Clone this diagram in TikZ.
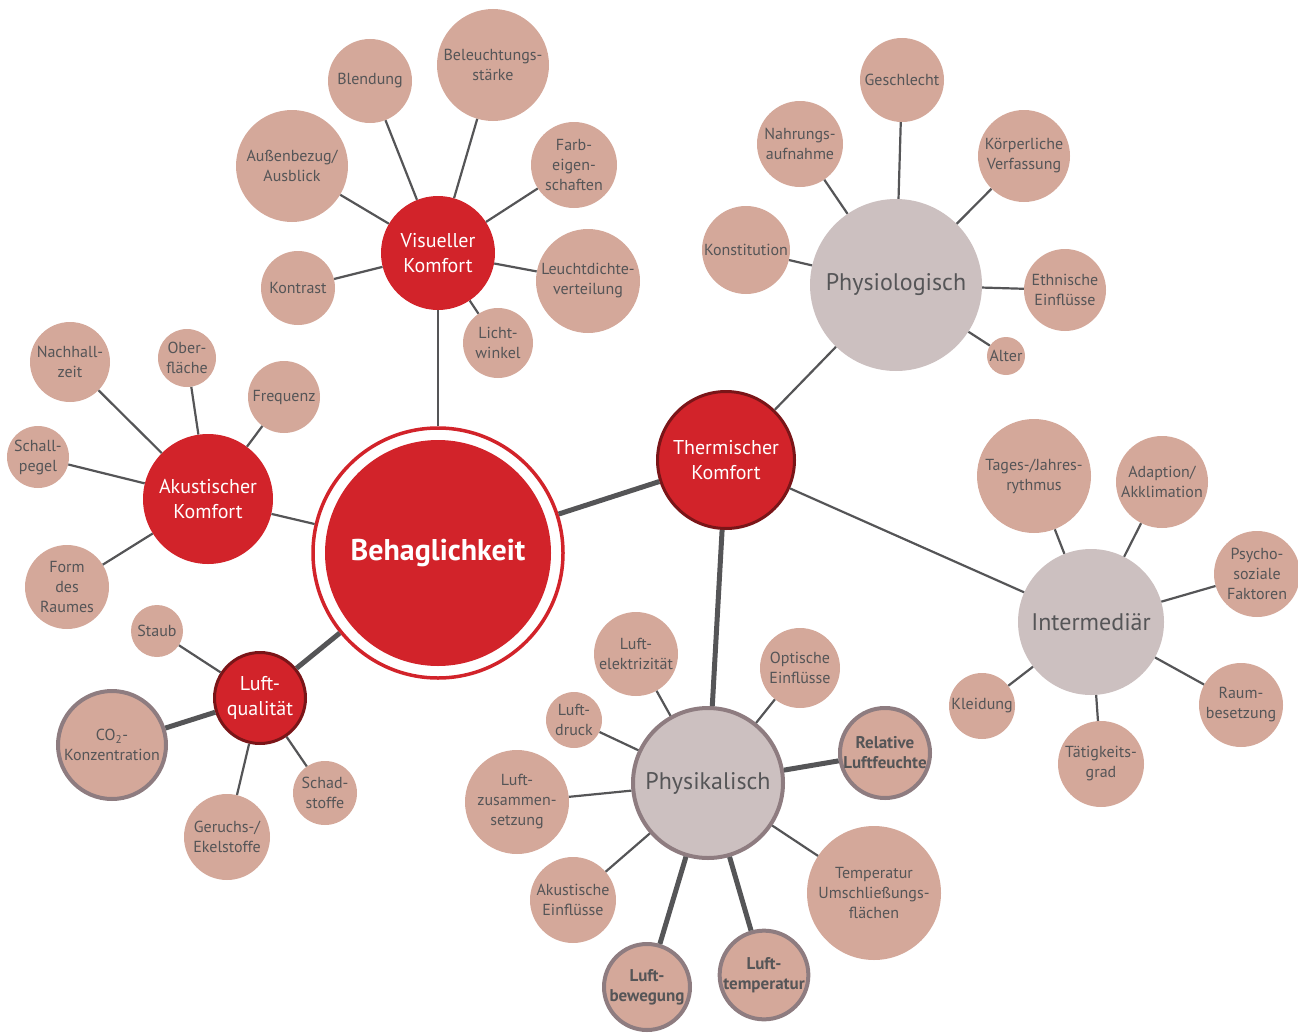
\documentclass[tikz,border=0pt]{standalone}
\usepackage{fontspec}
\setmainfont{PT Sans}
\definecolor{redc}{HTML}{D2232A}
\definecolor{darkred}{HTML}{7A1518}
\definecolor{pinkc}{HTML}{D4A89A}
\definecolor{grayc}{HTML}{CCC0C0}
\definecolor{bordc}{HTML}{8E7C80}
\definecolor{textc}{HTML}{555557}
\definecolor{linec}{HTML}{555557}
\tikzset{
  base/.style={circle, inner sep=0pt, align=center, text=textc, font=\fontsize{16}{20}\selectfont},
  leaf/.style={base, fill=pinkc},
  bleaf/.style={base, fill=pinkc, draw=bordc, line width=4pt, font=\fontsize{17}{20}\selectfont\bfseries},
  redn/.style={circle, inner sep=0pt, align=center, fill=redc, text=white, font=\fontsize{20}{25}\selectfont},
  redb/.style={redn, draw=darkred, line width=3pt},
  grayn/.style={circle, inner sep=0pt, align=center, fill=grayc, text=textc, font=\fontsize{24}{28}\selectfont},
  grayb/.style={grayn, draw=bordc, line width=4pt},
  conn/.style={draw=linec, line width=2.2pt},
  thick conn/.style={draw=linec, line width=5pt},
}
\begin{document}
\begin{tikzpicture}[x=1pt,y=-1pt]
\useasboundingbox (0,0) rectangle (1298,1033);
% main
\node[circle, draw=redc, line width=3.5pt, fill=white, minimum size=250pt, inner sep=0pt,
  text=white, font=\fontsize{30}{34}\selectfont\bfseries,
  path picture={\fill[redc] (path picture bounding box.center) circle (113pt);}] (beh) at (438,553) {Behaglichkeit};
% category nodes
\node[redn, minimum size=114pt] (vis) at (438,253) {Visueller\\Komfort};
\node[redn, minimum size=130pt] (ak) at (208,499) {Akustischer\\Komfort};
\node[redb, minimum size=91pt] (lq) at (260,698) {Luft-\\qualität};
\node[redb, minimum size=137pt] (th) at (726,460) {Thermischer\\Komfort};
\node[grayn, minimum size=172pt] (phy) at (896,285) {Physiologisch};
\node[grayn, minimum size=146pt] (int) at (1091,622) {Intermediär};
\node[grayb, minimum size=150pt] (phk) at (708,783) {Physikalisch};
% visual leaves
\node[leaf, minimum size=84pt] (bld) at (370,81) {Blendung};
\node[leaf, minimum size=112pt] (bel) at (493,65) {Beleuchtungs-\\stärke};
\node[leaf, minimum size=86pt] (farb) at (574,165) {Farb-\\eigen-\\schaften};
\node[leaf, minimum size=112pt] (aus) at (292,166) {Außenbezug/\\Ausblick};
\node[leaf, minimum size=74pt] (kon) at (298,288) {Kontrast};
\node[leaf, minimum size=104pt] (leu) at (588,281) {Leuchtdichte-\\verteilung};
\node[leaf, minimum size=70pt] (lw) at (498,343) {Licht-\\winkel};
% acoustic leaves
\node[leaf, minimum size=80pt] (nach) at (70,362) {Nachhall-\\zeit};
\node[leaf, minimum size=58pt] (ober) at (187,358) {Ober-\\fläche};
\node[leaf, minimum size=72pt] (freq) at (284,397) {Frequenz};
\node[leaf, minimum size=62pt] (schall) at (38,457) {Schall-\\pegel};
\node[leaf, minimum size=84pt] (form) at (67,587) {Form\\des\\Raumes};
% air quality leaves
\node[leaf, minimum size=52pt] (staub) at (157,631) {Staub};
\node[bleaf, minimum size=108pt, font=\fontsize{16}{20}\selectfont] (co2) at (112,745) {CO\textsubscript{2}-\\Konzentration};
\node[leaf, minimum size=86pt] (ger) at (227,837) {Geruchs-/\\Ekelstoffe};
\node[leaf, minimum size=64pt] (schad) at (325,793) {Schad-\\stoffe};
% physiological leaves
\node[leaf, minimum size=84pt] (ges) at (902,80) {Geschlecht};
\node[leaf, minimum size=86pt] (nahr) at (800,144) {Nahrungs-\\aufnahme};
\node[leaf, minimum size=92pt] (koer) at (1024,156) {Körperliche\\Verfassung};
\node[leaf, minimum size=88pt] (konst) at (746,250) {Konstitution};
\node[leaf, minimum size=82pt] (eth) at (1065,290) {Ethnische\\Einflüsse};
\node[leaf, minimum size=38pt] (alt) at (1006,356) {Alter};
% intermediate leaves
\node[leaf, minimum size=114pt] (tag) at (1034,476) {Tages-/Jahres-\\rythmus};
\node[leaf, minimum size=92pt] (adap) at (1162,482) {Adaption/\\Akklimation};
\node[leaf, minimum size=86pt] (psy) at (1257,574) {Psycho-\\soziale\\Faktoren};
\node[leaf, minimum size=84pt] (raum) at (1241,705) {Raum-\\besetzung};
\node[leaf, minimum size=86pt] (taet) at (1101,764) {Tätigkeits-\\grad};
\node[leaf, minimum size=66pt] (kleid) at (982,706) {Kleidung};
% physical leaves
\node[leaf, minimum size=84pt] (lel) at (636,654) {Luft-\\elektrizität};
\node[leaf, minimum size=80pt] (opt) at (800,668) {Optische\\Einflüsse};
\node[leaf, minimum size=56pt] (ldr) at (574,720) {Luft-\\druck};
\node[bleaf, minimum size=90pt] (rel) at (885,753) {Relative\\Luftfeuchte};
\node[leaf, minimum size=104pt] (lzus) at (517,802) {Luft-\\zusammen-\\setzung};
\node[leaf, minimum size=134pt] (tum) at (874,893) {Temperatur\\Umschließungs-\\flächen};
\node[leaf, minimum size=86pt] (akein) at (573,900) {Akustische\\Einflüsse};
\node[bleaf, minimum size=86pt] (lbew) at (647,987) {Luft-\\bewegung};
\node[bleaf, minimum size=88pt] (ltem) at (764,975) {Luft-\\temperatur};
% connectors
\draw[conn] (beh) -- (vis);
\draw[conn] (beh) -- (ak);
\draw[thick conn] (beh) -- (lq);
\draw[thick conn] (beh) -- (th);
\draw[conn] (th) -- (phy);
\draw[conn] (th) -- (int);
\draw[thick conn] (th) -- (phk);
\foreach \n in {bld,bel,farb,aus,kon,leu,lw} \draw[conn] (vis) -- (\n);
\foreach \n in {nach,ober,freq,schall,form} \draw[conn] (ak) -- (\n);
\foreach \n in {staub,ger,schad} \draw[conn] (lq) -- (\n);
\draw[thick conn] (lq) -- (co2);
\foreach \n in {ges,nahr,koer,konst,eth,alt} \draw[conn] (phy) -- (\n);
\foreach \n in {tag,adap,psy,raum,taet,kleid} \draw[conn] (int) -- (\n);
\foreach \n in {lel,opt,ldr,lzus,tum,akein} \draw[conn] (phk) -- (\n);
\foreach \n in {rel,lbew,ltem} \draw[thick conn] (phk) -- (\n);
\end{tikzpicture}
\end{document}
